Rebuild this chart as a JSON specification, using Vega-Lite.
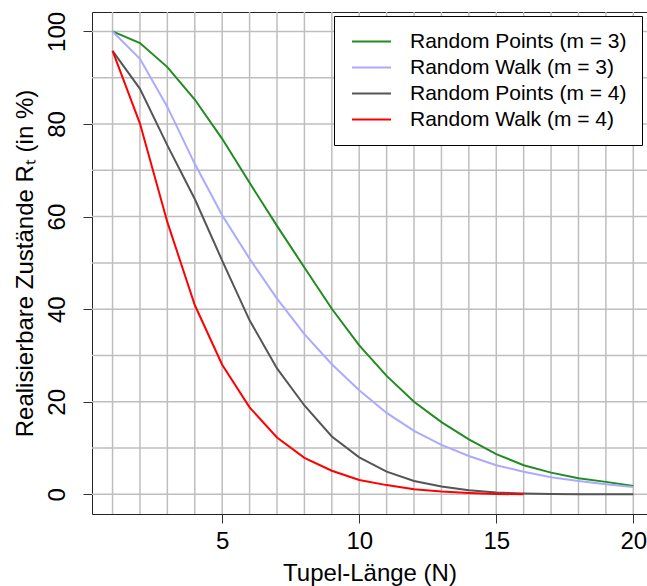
{
  "$schema": "https://vega.github.io/schema/vega-lite/v6.json",
  "autosize": {"type": "none"},
  "padding": {"left": 92, "top": 12, "right": 0, "bottom": 72},
  "width": 555,
  "height": 502,
  "background": "white",
  "config": {
    "view": {"stroke": "#222222", "strokeWidth": 1},
    "font": "Liberation Sans",
    "axis": {
      "domain": false,
      "grid": false,
      "ticks": true,
      "tickColor": "#333333",
      "tickSize": 9,
      "tickWidth": 1,
      "labelFont": "Liberation Sans",
      "labelFontSize": 24,
      "labelColor": "#000000",
      "titleFont": "Liberation Sans",
      "titleFontSize": 24,
      "titleFontWeight": "normal",
      "titleColor": "#000000"
    },
    "legend": {
      "orient": "none",
      "legendX": 242,
      "legendY": 4,
      "title": null,
      "strokeColor": "#000000",
      "fillColor": "#ffffff",
      "padding": 15,
      "cornerRadius": 0,
      "symbolType": "M-3,0H3",
      "symbolSize": 169,
      "symbolStrokeWidth": 2,
      "labelFont": "Liberation Sans",
      "labelFontSize": 21,
      "labelColor": "#000000",
      "labelOffset": 28,
      "symbolOffset": 12,
      "rowPadding": 4,
      "labelLimit": 400
    }
  },
  "datasets": {
    "curves": [
      {"N": 1, "R": 100, "s": "Random Points (m = 3)"},
      {"N": 2, "R": 97.5, "s": "Random Points (m = 3)"},
      {"N": 3, "R": 92.3, "s": "Random Points (m = 3)"},
      {"N": 4, "R": 85.3, "s": "Random Points (m = 3)"},
      {"N": 5, "R": 76.8, "s": "Random Points (m = 3)"},
      {"N": 6, "R": 67.3, "s": "Random Points (m = 3)"},
      {"N": 7, "R": 58.0, "s": "Random Points (m = 3)"},
      {"N": 8, "R": 49.0, "s": "Random Points (m = 3)"},
      {"N": 9, "R": 40.1, "s": "Random Points (m = 3)"},
      {"N": 10, "R": 32.2, "s": "Random Points (m = 3)"},
      {"N": 11, "R": 25.6, "s": "Random Points (m = 3)"},
      {"N": 12, "R": 20.0, "s": "Random Points (m = 3)"},
      {"N": 13, "R": 15.6, "s": "Random Points (m = 3)"},
      {"N": 14, "R": 11.9, "s": "Random Points (m = 3)"},
      {"N": 15, "R": 8.7, "s": "Random Points (m = 3)"},
      {"N": 16, "R": 6.3, "s": "Random Points (m = 3)"},
      {"N": 17, "R": 4.7, "s": "Random Points (m = 3)"},
      {"N": 18, "R": 3.5, "s": "Random Points (m = 3)"},
      {"N": 19, "R": 2.7, "s": "Random Points (m = 3)"},
      {"N": 20, "R": 1.8, "s": "Random Points (m = 3)"},
      {"N": 1, "R": 100, "s": "Random Walk (m = 3)"},
      {"N": 2, "R": 94.1, "s": "Random Walk (m = 3)"},
      {"N": 3, "R": 83.7, "s": "Random Walk (m = 3)"},
      {"N": 4, "R": 71.4, "s": "Random Walk (m = 3)"},
      {"N": 5, "R": 60.3, "s": "Random Walk (m = 3)"},
      {"N": 6, "R": 50.9, "s": "Random Walk (m = 3)"},
      {"N": 7, "R": 42.3, "s": "Random Walk (m = 3)"},
      {"N": 8, "R": 34.6, "s": "Random Walk (m = 3)"},
      {"N": 9, "R": 28.1, "s": "Random Walk (m = 3)"},
      {"N": 10, "R": 22.5, "s": "Random Walk (m = 3)"},
      {"N": 11, "R": 17.6, "s": "Random Walk (m = 3)"},
      {"N": 12, "R": 13.7, "s": "Random Walk (m = 3)"},
      {"N": 13, "R": 10.7, "s": "Random Walk (m = 3)"},
      {"N": 14, "R": 8.3, "s": "Random Walk (m = 3)"},
      {"N": 15, "R": 6.3, "s": "Random Walk (m = 3)"},
      {"N": 16, "R": 4.9, "s": "Random Walk (m = 3)"},
      {"N": 17, "R": 3.7, "s": "Random Walk (m = 3)"},
      {"N": 18, "R": 2.9, "s": "Random Walk (m = 3)"},
      {"N": 19, "R": 2.2, "s": "Random Walk (m = 3)"},
      {"N": 20, "R": 1.6, "s": "Random Walk (m = 3)"},
      {"N": 1, "R": 95.8, "s": "Random Points (m = 4)"},
      {"N": 2, "R": 87.6, "s": "Random Points (m = 4)"},
      {"N": 3, "R": 75.4, "s": "Random Points (m = 4)"},
      {"N": 4, "R": 63.8, "s": "Random Points (m = 4)"},
      {"N": 5, "R": 50.5, "s": "Random Points (m = 4)"},
      {"N": 6, "R": 37.6, "s": "Random Points (m = 4)"},
      {"N": 7, "R": 27.2, "s": "Random Points (m = 4)"},
      {"N": 8, "R": 19.2, "s": "Random Points (m = 4)"},
      {"N": 9, "R": 12.5, "s": "Random Points (m = 4)"},
      {"N": 10, "R": 8.0, "s": "Random Points (m = 4)"},
      {"N": 11, "R": 4.9, "s": "Random Points (m = 4)"},
      {"N": 12, "R": 2.9, "s": "Random Points (m = 4)"},
      {"N": 13, "R": 1.7, "s": "Random Points (m = 4)"},
      {"N": 14, "R": 0.9, "s": "Random Points (m = 4)"},
      {"N": 15, "R": 0.4, "s": "Random Points (m = 4)"},
      {"N": 16, "R": 0.2, "s": "Random Points (m = 4)"},
      {"N": 17, "R": 0.1, "s": "Random Points (m = 4)"},
      {"N": 18, "R": 0.05, "s": "Random Points (m = 4)"},
      {"N": 19, "R": 0.0, "s": "Random Points (m = 4)"},
      {"N": 20, "R": 0.0, "s": "Random Points (m = 4)"},
      {"N": 1, "R": 95.8, "s": "Random Walk (m = 4)"},
      {"N": 2, "R": 80.1, "s": "Random Walk (m = 4)"},
      {"N": 3, "R": 58.8, "s": "Random Walk (m = 4)"},
      {"N": 4, "R": 40.9, "s": "Random Walk (m = 4)"},
      {"N": 5, "R": 28.0, "s": "Random Walk (m = 4)"},
      {"N": 6, "R": 18.8, "s": "Random Walk (m = 4)"},
      {"N": 7, "R": 12.3, "s": "Random Walk (m = 4)"},
      {"N": 8, "R": 7.9, "s": "Random Walk (m = 4)"},
      {"N": 9, "R": 5.1, "s": "Random Walk (m = 4)"},
      {"N": 10, "R": 3.1, "s": "Random Walk (m = 4)"},
      {"N": 11, "R": 2.0, "s": "Random Walk (m = 4)"},
      {"N": 12, "R": 1.1, "s": "Random Walk (m = 4)"},
      {"N": 13, "R": 0.6, "s": "Random Walk (m = 4)"},
      {"N": 14, "R": 0.3, "s": "Random Walk (m = 4)"},
      {"N": 15, "R": 0.1, "s": "Random Walk (m = 4)"},
      {"N": 16, "R": 0.0, "s": "Random Walk (m = 4)"}
    ],
    "vgrid": [
      {"N": 1}, {"N": 2}, {"N": 3}, {"N": 4}, {"N": 5}, {"N": 6}, {"N": 7}, {"N": 8}, {"N": 9}, {"N": 10},
      {"N": 11}, {"N": 12}, {"N": 13}, {"N": 14}, {"N": 15}, {"N": 16}, {"N": 17}, {"N": 18}, {"N": 19}, {"N": 20}
    ],
    "hgrid": [
      {"R": 0}, {"R": 10}, {"R": 20}, {"R": 30}, {"R": 40}, {"R": 50}, {"R": 60}, {"R": 70}, {"R": 80}, {"R": 90}, {"R": 100}
    ]
  },
  "layer": [
    {
      "data": {"name": "vgrid"},
      "mark": {"type": "rule", "color": "#bebebe", "strokeWidth": 1.5},
      "encoding": {
        "x": {
          "field": "N", "type": "quantitative",
          "scale": {"domain": [0.25, 20.5], "nice": false, "zero": false},
          "axis": {"values": [5, 10, 15, 20], "title": "Tupel-Länge (N)", "labelPadding": 6, "titlePadding": 8}
        }
      }
    },
    {
      "data": {"name": "hgrid"},
      "mark": {"type": "rule", "color": "#bebebe", "strokeWidth": 1.5},
      "encoding": {
        "y": {
          "field": "R", "type": "quantitative",
          "scale": {"domain": [-4.24, 104.2], "nice": false, "zero": false},
          "axis": {"values": [0, 20, 40, 60, 80, 100], "labelAngle": 270, "title": "Realisierbare Zustände Rₜ  (in %)", "labelPadding": 14, "titlePadding": 8}
        }
      }
    },
    {
      "data": {"name": "curves"},
      "mark": {"type": "line", "strokeWidth": 2, "clip": true},
      "encoding": {
        "x": {
          "field": "N", "type": "quantitative",
          "scale": {"domain": [0.25, 20.5], "nice": false, "zero": false},
          "axis": {"values": [5, 10, 15, 20], "title": "Tupel-Länge (N)", "labelPadding": 6, "titlePadding": 8}
        },
        "y": {
          "field": "R", "type": "quantitative",
          "scale": {"domain": [-4.24, 104.2], "nice": false, "zero": false},
          "axis": {"values": [0, 20, 40, 60, 80, 100], "labelAngle": 270, "title": "Realisierbare Zustände Rₜ  (in %)", "labelPadding": 14, "titlePadding": 8}
        },
        "color": {
          "field": "s", "type": "nominal",
          "scale": {
            "domain": ["Random Points (m = 3)", "Random Walk (m = 3)", "Random Points (m = 4)", "Random Walk (m = 4)"],
            "range": ["#228B22", "#AAAAFF", "#555555", "#FF0000"]
          },
          "legend": {}
        },
        "order": {"field": "N", "type": "quantitative"}
      }
    }
  ]
}
